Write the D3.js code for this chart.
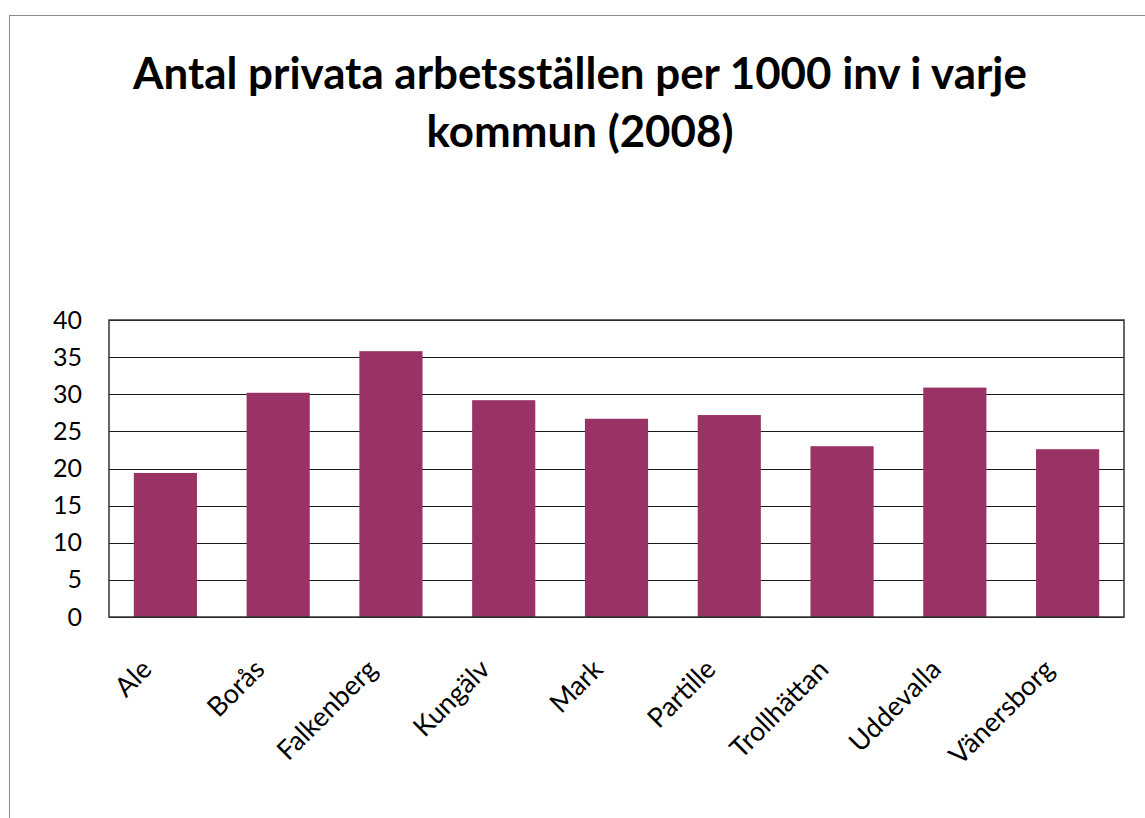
<!DOCTYPE html>
<html>
<head>
<meta charset="utf-8">
<script src="https://cdn.jsdelivr.net/npm/d3@7"></script>
<style>
  body { margin: 0; background: #fff; }
  svg text { font-family: Lato, "Open Sans", sans-serif; fill: #000; }
</style>
</head>
<body>
<div id="chart"></div>
<script>
// data
const kommuner = ["Ale", "Borås", "Falkenberg", "Kungälv", "Mark", "Partille", "Trollhättan", "Uddevalla", "Vänersborg"];
const arbetsstallen = [19.4, 30.2, 35.8, 29.2, 26.7, 27.2, 23.0, 30.9, 22.6];
const yTicks = [0, 5, 10, 15, 20, 25, 30, 35, 40];
const titleLines = ["Antal privata arbetsställen per 1000 inv i varje", "kommun (2008)"];

const width = 1145, height = 818;
const margin = {top: 320, right: 21, bottom: 201, left: 109};

const svg = d3.select("#chart").append("svg")
    .attr("width", width)
    .attr("height", height);

// outer chart frame
svg.append("rect")
    .attr("x", 9.5).attr("y", 15.5)
    .attr("width", width + 20).attr("height", height + 20)
    .attr("fill", "none")
    .attr("stroke", "#8c8c8c");

const x = d3.scaleBand()
    .domain(kommuner)
    .range([margin.left, width - margin.right])
    .paddingInner(0.44)
    .paddingOuter(0.22);

const y = d3.scaleLinear()
    .domain([0, 40])
    .range([height - margin.bottom, margin.top]);

// gridlines
svg.append("g")
    .selectAll("line")
    .data(yTicks)
    .join("line")
    .attr("x1", margin.left).attr("x2", width - margin.right)
    .attr("y1", d => Math.round(y(d)) + 0.5)
    .attr("y2", d => Math.round(y(d)) + 0.5)
    .attr("stroke", "#1a1a1a");

// bars
svg.append("g")
    .selectAll("rect")
    .data(arbetsstallen)
    .join("rect")
    .attr("x", (d, i) => x(kommuner[i]))
    .attr("y", d => y(d))
    .attr("width", x.bandwidth())
    .attr("height", d => y(0) - y(d))
    .attr("fill", "#993366");

// plot frame
svg.append("rect")
    .attr("x", margin.left).attr("y", margin.top)
    .attr("width", width - margin.right - margin.left)
    .attr("height", height - margin.bottom - margin.top)
    .attr("fill", "none")
    .attr("stroke", "#333")
    .attr("stroke-width", 1.5);

// y axis labels
const yAxis = svg.append("g")
    .attr("transform", `translate(${margin.left},0)`)
    .call(d3.axisLeft(y).tickValues(yTicks).tickSize(0).tickPadding(27));
yAxis.select(".domain").remove();
yAxis.selectAll("text")
    .attr("font-size", 25)
    .attr("font-family", "Lato, sans-serif");

// x labels, rotated
svg.append("g")
    .selectAll("text")
    .data(kommuner)
    .join("text")
    .attr("transform", d => `translate(${x(d) + x.bandwidth() / 2 - 12},${height - margin.bottom + 54}) rotate(-45)`)
    .attr("text-anchor", "end")
    .attr("font-size", 27)
    .text(d => d);

// title
const title = svg.append("g");
const t1 = title.append("text")
    .attr("x", 580).attr("y", 89)
    .attr("text-anchor", "middle")
    .attr("font-weight", "bold")
    .attr("font-size", 40)
    .text(titleLines[0]);
const fs = 40 * 894 / t1.node().getComputedTextLength();
t1.attr("font-size", fs);
title.append("text")
    .attr("x", 580).attr("y", 147)
    .attr("text-anchor", "middle")
    .attr("font-weight", "bold")
    .attr("font-size", fs)
    .text(titleLines[1]);
</script>
</body>
</html>
